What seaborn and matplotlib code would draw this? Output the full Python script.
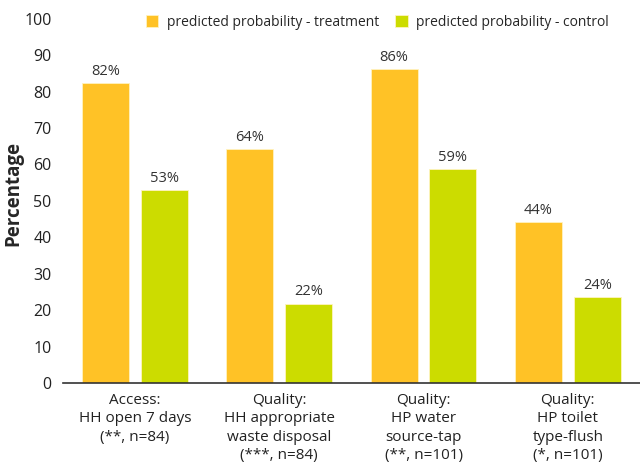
import matplotlib
matplotlib.use("Agg")
import matplotlib.pyplot as plt
import seaborn as sns
import pandas as pd

sns.set_theme(style="white")
plt.rcParams['font.family'] = ['Open Sans', 'DejaVu Sans']

# data
categories = [
    "Access:\nHH open 7 days\n(**, n=84)",
    "Quality:\nHH appropriate\nwaste disposal\n(***, n=84)",
    "Quality:\nHP water\nsource-tap\n(**, n=101)",
    "Quality:\nHP toilet\ntype-flush\n(*, n=101)",
]
series = ["predicted probability - treatment", "predicted probability - control"]
treatment = [82.3, 64.2, 86.2, 44.2]
control = [53.0, 21.8, 58.8, 23.6]
colors = ["#FFC226", "#CCDC00"]

df = pd.DataFrame({
    "category": categories * 2,
    "group": [series[0]] * 4 + [series[1]] * 4,
    "value": treatment + control,
})

fig = plt.figure(figsize=(6.4, 4.7), dpi=100)
ax = fig.add_axes([0.098, 0.185, 0.902, 0.775])

sns.barplot(data=df, x="category", y="value", hue="group", order=categories,
            hue_order=series, palette=colors, saturation=1, width=0.814, gap=0.2,
            edgecolor="#FFF3C0", linewidth=0.6, ax=ax)

for container in ax.containers:
    ax.bar_label(container, labels=[f"{v:.0f}%" for v in container.datavalues],
                 padding=3, fontsize=10.5, color="#333333")

ax.set_xlim(-0.5, 3.5)
ax.set_ylim(0, 100)
ax.set_yticks(range(0, 101, 10))
ax.tick_params(axis="y", labelsize=11.5, length=0, pad=8, colors="#222222")
ax.tick_params(axis="x", labelsize=11, length=0, pad=7, colors="#222222")
for lbl in ax.get_xticklabels():
    lbl.set_linespacing(1.32)
ax.set_xlabel("")
ax.set_ylabel("Percentage", fontsize=13.5, fontweight="bold")
ax.yaxis.set_label_coords(-0.068, 0.52)

sns.despine(ax=ax, left=True, top=True, right=True)
ax.spines["bottom"].set_color("#333333")
ax.spines["bottom"].set_linewidth(1.2)

leg = ax.legend(loc="upper center", bbox_to_anchor=(0.545, 1.045), ncol=2,
                frameon=False, fontsize=10, handlelength=0.9, handleheight=0.9,
                columnspacing=1.2, handletextpad=0.6)

fig.savefig("out.png", dpi=100)
